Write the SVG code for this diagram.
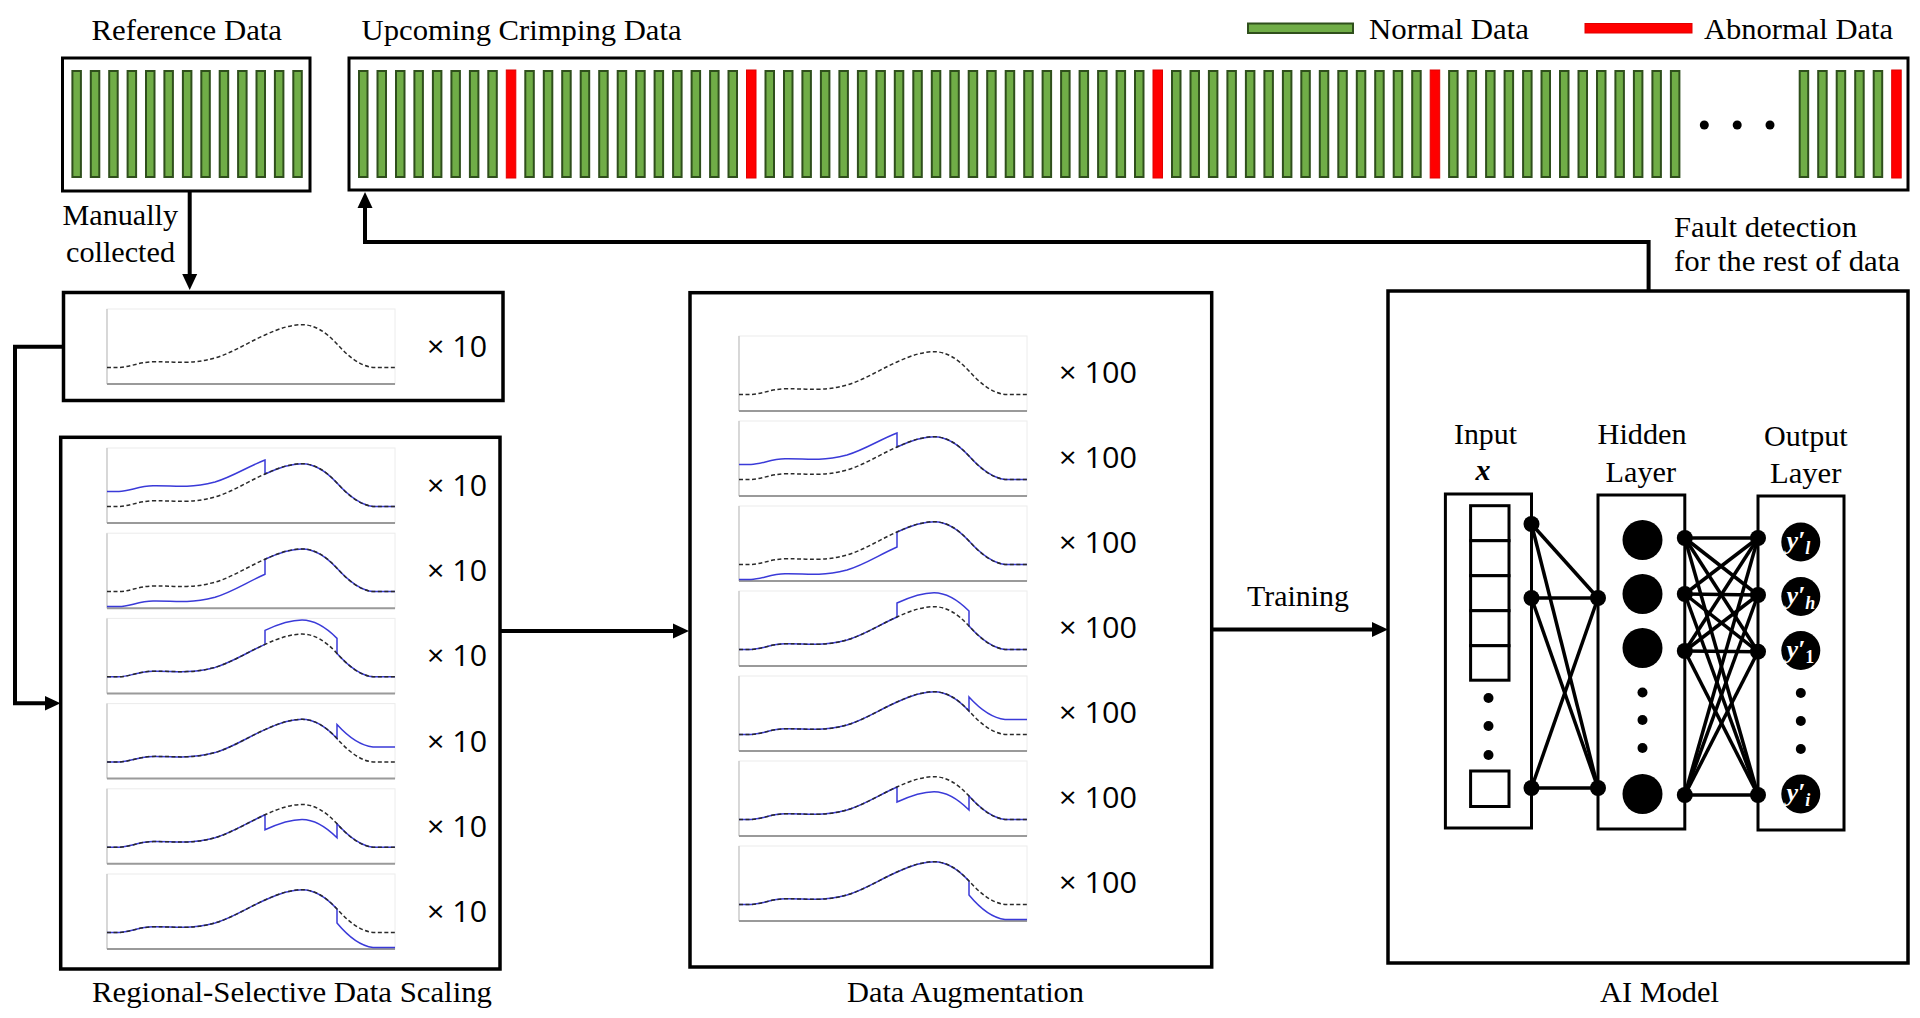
<svg xmlns="http://www.w3.org/2000/svg" xmlns:xlink="http://www.w3.org/1999/xlink" width="1920" height="1018" viewBox="0 0 1920 1018">
<style>
.t{font-family:"Liberation Serif","Times New Roman",serif;font-size:30px;fill:#000}
.s{font-family:"Open Sans","Noto Sans",sans-serif;font-size:29px;fill:#000}
.box{fill:#fff;stroke:#000;stroke-width:3.5}
.nbox{fill:#fff;stroke:#000;stroke-width:3}
.conn{fill:none;stroke:#000;stroke-width:4}
.nl{stroke:#000;stroke-width:3.5}
.gbar{fill:#70ad47;stroke:#2f4f1c;stroke-width:2}
.rbar{fill:#ff0000;stroke:#e00000;stroke-width:1}
.dash{fill:none;stroke:#2a2a2a;stroke-width:1.5;stroke-dasharray:4 2.5}
.blue{fill:none;stroke:#3a3ad8;stroke-width:1.5}
.yl{font-family:"Liberation Serif","DejaVu Serif",serif;font-style:italic;font-weight:bold;font-size:26px;fill:#fff}
</style>
<defs>
<marker id="ah" markerUnits="userSpaceOnUse" viewBox="0 0 16 16" markerWidth="16" markerHeight="16" refX="6" refY="8" orient="auto">
<path d="M0,0.5 L16,8 L0,15.5 Z" fill="#000"/>
</marker>
<rect id="gb" class="gbar" width="8.5" height="106"/>
<g id="frame">
<rect x="0" y="0" width="288" height="75" fill="#fff" stroke="#ececec" stroke-width="1"/>
<line x1="0" y1="0" x2="0" y2="75" stroke="#c4c4c4" stroke-width="1.2"/>
<line x1="0" y1="75" x2="288" y2="75" stroke="#9a9a9a" stroke-width="2"/>
</g>
<path id="base" d="M0,58.4 L12,58.4 C22,58.4 32,53 46,52.8 C60,52.6 68,53.6 80,53.2 C92,52.8 98,51.5 108,49 C125,44 140,34 158,26 C172,19.5 184,15.7 195,15.7 C207,15.7 218,22 230,35 C240,46 252,57 266,58.4 L288,58.4"/>
<path id="bA" d="M0,43.4 L12,43.4 C22,43.4 32,38 46,37.8 C60,37.6 68,38.6 80,38.2 C92,37.8 98,36.5 108,34 C125,29 140,19 158,12 L158,26 C172,19.5 184,15.7 195,15.7 C207,15.7 218,22 230,35 C240,46 252,57 266,58.4 L288,58.4"/>
<path id="bB" d="M0,73.4 L12,73.4 C22,73.4 32,68 46,67.8 C60,67.6 68,68.6 80,68.2 C92,67.8 98,66.5 108,64 C125,59 140,49 158,41 L158,26 C172,19.5 184,15.7 195,15.7 C207,15.7 218,22 230,35 C240,46 252,57 266,58.4 L288,58.4"/>
<path id="bC" d="M0,58.4 L12,58.4 C22,58.4 32,53 46,52.8 C60,52.6 68,53.6 80,53.2 C92,52.8 98,51.5 108,49 C125,44 140,34 158,26 L158,12 C172,5.5 184,1.7 195,1.7 C207,1.7 218,8 230,20 L230,35 C240,46 252,57 266,58.4 L288,58.4"/>
<path id="bD" d="M0,58.4 L12,58.4 C22,58.4 32,53 46,52.8 C60,52.6 68,53.6 80,53.2 C92,52.8 98,51.5 108,49 C125,44 140,34 158,26 C172,19.5 184,15.7 195,15.7 C207,15.7 218,22 230,35 L230,21 C240,32 252,42 266,43.4 L288,43.4"/>
<path id="bE" d="M0,58.4 L12,58.4 C22,58.4 32,53 46,52.8 C60,52.6 68,53.6 80,53.2 C92,52.8 98,51.5 108,49 C125,44 140,34 158,26 L158,41 C172,34.5 184,30.7 195,30.7 C207,30.7 218,37 230,49 L230,35 C240,46 252,57 266,58.4 L288,58.4"/>
<path id="bF" d="M0,58.4 L12,58.4 C22,58.4 32,53 46,52.8 C60,52.6 68,53.6 80,53.2 C92,52.8 98,51.5 108,49 C125,44 140,34 158,26 C172,19.5 184,15.7 195,15.7 C207,15.7 218,22 230,35 L230,49 C240,61 252,72 266,73.4 L288,73.4"/>
</defs>

<rect width="1920" height="1018" fill="#fff"/>

<g id="connectors">
<path class="conn" d="M189.7,191 V280" marker-end="url(#ah)"/>
<path class="conn" d="M1648.6,291 V242 H365 V202" marker-end="url(#ah)"/>
<path class="conn" d="M63,346.7 H15 V703.3 H50.5" marker-end="url(#ah)"/>
<path class="conn" d="M500,631 H679" marker-end="url(#ah)"/>
<path class="conn" d="M1211.7,629.5 H1378" marker-end="url(#ah)"/>
<text class="t" x="62.5" y="225" textLength="115.5" lengthAdjust="spacingAndGlyphs">Manually</text>
<text class="t" x="66" y="261.7" textLength="109" lengthAdjust="spacingAndGlyphs">collected</text>
<text class="t" x="1674" y="236.7" textLength="183" lengthAdjust="spacingAndGlyphs">Fault detection</text>
<text class="t" x="1674" y="270.7" textLength="226" lengthAdjust="spacingAndGlyphs">for the rest of data</text>
<text class="t" x="1247" y="605.7" textLength="102" lengthAdjust="spacingAndGlyphs">Training</text>
</g>

<g id="legend">
<rect class="gbar" x="1248" y="23.5" width="105" height="9.5"/>
<text class="t" x="1369" y="39" textLength="160" lengthAdjust="spacingAndGlyphs">Normal Data</text>
<rect class="rbar" x="1585" y="23.5" width="107" height="9.5"/>
<text class="t" x="1704" y="39" textLength="189" lengthAdjust="spacingAndGlyphs">Abnormal Data</text>
</g>

<g id="reference-data">
<text class="t" x="91.5" y="40" textLength="190.5" lengthAdjust="spacingAndGlyphs">Reference Data</text>
<rect x="62.5" y="58" width="247.5" height="133" fill="#fff" stroke="#000" stroke-width="3"/>
<use href="#gb" x="72.4" y="71"/><use href="#gb" x="90.8" y="71"/><use href="#gb" x="109.2" y="71"/><use href="#gb" x="127.6" y="71"/><use href="#gb" x="146" y="71"/><use href="#gb" x="164.4" y="71"/><use href="#gb" x="182.9" y="71"/><use href="#gb" x="201.3" y="71"/><use href="#gb" x="219.7" y="71"/><use href="#gb" x="238.1" y="71"/><use href="#gb" x="256.5" y="71"/><use href="#gb" x="274.9" y="71"/><use href="#gb" x="293.3" y="71"/>
</g>

<g id="upcoming-data">
<text class="t" x="361.6" y="40" textLength="320" lengthAdjust="spacingAndGlyphs">Upcoming Crimping Data</text>
<rect x="349" y="58" width="1559" height="132" fill="#fff" stroke="#000" stroke-width="3"/>
<g>
<use href="#gb" x="359" y="71"/><use href="#gb" x="377.5" y="71"/><use href="#gb" x="396" y="71"/><use href="#gb" x="414.4" y="71"/><use href="#gb" x="432.9" y="71"/><use href="#gb" x="451.4" y="71"/><use href="#gb" x="469.9" y="71"/><use href="#gb" x="488.3" y="71"/>
<rect class="rbar" x="506.3" y="70" width="9.5" height="108"/>
<use href="#gb" x="525.3" y="71"/><use href="#gb" x="543.8" y="71"/><use href="#gb" x="562.2" y="71"/><use href="#gb" x="580.7" y="71"/><use href="#gb" x="599.2" y="71"/><use href="#gb" x="617.7" y="71"/><use href="#gb" x="636.2" y="71"/><use href="#gb" x="654.6" y="71"/><use href="#gb" x="673.1" y="71"/><use href="#gb" x="691.6" y="71"/><use href="#gb" x="710.1" y="71"/><use href="#gb" x="728.5" y="71"/>
<rect class="rbar" x="746.5" y="70" width="9.5" height="108"/>
<use href="#gb" x="765.5" y="71"/><use href="#gb" x="784" y="71"/><use href="#gb" x="802.4" y="71"/><use href="#gb" x="820.9" y="71"/><use href="#gb" x="839.4" y="71"/><use href="#gb" x="857.9" y="71"/><use href="#gb" x="876.4" y="71"/><use href="#gb" x="894.8" y="71"/><use href="#gb" x="913.3" y="71"/><use href="#gb" x="931.8" y="71"/><use href="#gb" x="950.3" y="71"/><use href="#gb" x="968.7" y="71"/><use href="#gb" x="987.2" y="71"/><use href="#gb" x="1005.7" y="71"/><use href="#gb" x="1024.2" y="71"/><use href="#gb" x="1042.6" y="71"/><use href="#gb" x="1061.1" y="71"/><use href="#gb" x="1079.6" y="71"/><use href="#gb" x="1098.1" y="71"/><use href="#gb" x="1116.6" y="71"/><use href="#gb" x="1135" y="71"/>
<rect class="rbar" x="1153" y="70" width="9.5" height="108"/>
<use href="#gb" x="1172" y="71"/><use href="#gb" x="1190.5" y="71"/><use href="#gb" x="1208.9" y="71"/><use href="#gb" x="1227.4" y="71"/><use href="#gb" x="1245.9" y="71"/><use href="#gb" x="1264.4" y="71"/><use href="#gb" x="1282.9" y="71"/><use href="#gb" x="1301.3" y="71"/><use href="#gb" x="1319.8" y="71"/><use href="#gb" x="1338.3" y="71"/><use href="#gb" x="1356.8" y="71"/><use href="#gb" x="1375.2" y="71"/><use href="#gb" x="1393.7" y="71"/><use href="#gb" x="1412.2" y="71"/>
<rect class="rbar" x="1430.2" y="70" width="9.5" height="108"/>
<use href="#gb" x="1449.1" y="71"/><use href="#gb" x="1467.6" y="71"/><use href="#gb" x="1486.1" y="71"/><use href="#gb" x="1504.6" y="71"/><use href="#gb" x="1523.1" y="71"/><use href="#gb" x="1541.5" y="71"/><use href="#gb" x="1560" y="71"/><use href="#gb" x="1578.5" y="71"/><use href="#gb" x="1597" y="71"/><use href="#gb" x="1615.4" y="71"/><use href="#gb" x="1633.9" y="71"/><use href="#gb" x="1652.4" y="71"/><use href="#gb" x="1670.9" y="71"/>
<circle cx="1704.3" cy="125" r="4.5"/><circle cx="1737.2" cy="125" r="4.5"/><circle cx="1770" cy="125" r="4.5"/>
<use href="#gb" x="1799.7" y="71"/><use href="#gb" x="1818.2" y="71"/><use href="#gb" x="1836.7" y="71"/><use href="#gb" x="1855.2" y="71"/><use href="#gb" x="1873.7" y="71"/>
<rect class="rbar" x="1891.7" y="70" width="9.5" height="108"/>
</g>
</g>

<g id="reference-curve">
<rect class="box" x="63.5" y="292.5" width="439.5" height="108"/>
<g transform="translate(107,309)"><use href="#frame"/><use href="#base" class="dash"/></g>
<text class="s" x="427" y="357" textLength="60" lengthAdjust="spacingAndGlyphs">× 10</text>
</g>

<g id="regional-selective-scaling">
<rect class="box" x="60.7" y="437.3" width="439.3" height="531.7"/>
<g transform="translate(107,448)"><use href="#frame"/><use href="#bA" class="blue"/><use href="#base" class="dash"/></g>
<g transform="translate(107,533.2)"><use href="#frame"/><use href="#bB" class="blue"/><use href="#base" class="dash"/></g>
<g transform="translate(107,618.4)"><use href="#frame"/><use href="#bC" class="blue"/><use href="#base" class="dash"/></g>
<g transform="translate(107,703.6)"><use href="#frame"/><use href="#bD" class="blue"/><use href="#base" class="dash"/></g>
<g transform="translate(107,788.8)"><use href="#frame"/><use href="#bE" class="blue"/><use href="#base" class="dash"/></g>
<g transform="translate(107,874)"><use href="#frame"/><use href="#bF" class="blue"/><use href="#base" class="dash"/></g>
<text class="s" x="427" y="496" textLength="60" lengthAdjust="spacingAndGlyphs">× 10</text>
<text class="s" x="427" y="581.2" textLength="60" lengthAdjust="spacingAndGlyphs">× 10</text>
<text class="s" x="427" y="666.4" textLength="60" lengthAdjust="spacingAndGlyphs">× 10</text>
<text class="s" x="427" y="751.6" textLength="60" lengthAdjust="spacingAndGlyphs">× 10</text>
<text class="s" x="427" y="836.8" textLength="60" lengthAdjust="spacingAndGlyphs">× 10</text>
<text class="s" x="427" y="922" textLength="60" lengthAdjust="spacingAndGlyphs">× 10</text>
<text class="t" x="92" y="1002" textLength="400" lengthAdjust="spacingAndGlyphs">Regional-Selective Data Scaling</text>
</g>

<g id="data-augmentation">
<rect class="box" x="690" y="292.7" width="521.7" height="674.3"/>
<g transform="translate(739,336)"><use href="#frame"/><use href="#base" class="dash"/></g>
<g transform="translate(739,421)"><use href="#frame"/><use href="#bA" class="blue"/><use href="#base" class="dash"/></g>
<g transform="translate(739,506)"><use href="#frame"/><use href="#bB" class="blue"/><use href="#base" class="dash"/></g>
<g transform="translate(739,591)"><use href="#frame"/><use href="#bC" class="blue"/><use href="#base" class="dash"/></g>
<g transform="translate(739,676)"><use href="#frame"/><use href="#bD" class="blue"/><use href="#base" class="dash"/></g>
<g transform="translate(739,761)"><use href="#frame"/><use href="#bE" class="blue"/><use href="#base" class="dash"/></g>
<g transform="translate(739,846)"><use href="#frame"/><use href="#bF" class="blue"/><use href="#base" class="dash"/></g>
<text class="s" x="1059" y="383" textLength="78" lengthAdjust="spacingAndGlyphs">× 100</text>
<text class="s" x="1059" y="468" textLength="78" lengthAdjust="spacingAndGlyphs">× 100</text>
<text class="s" x="1059" y="553" textLength="78" lengthAdjust="spacingAndGlyphs">× 100</text>
<text class="s" x="1059" y="638" textLength="78" lengthAdjust="spacingAndGlyphs">× 100</text>
<text class="s" x="1059" y="723" textLength="78" lengthAdjust="spacingAndGlyphs">× 100</text>
<text class="s" x="1059" y="808" textLength="78" lengthAdjust="spacingAndGlyphs">× 100</text>
<text class="s" x="1059" y="893" textLength="78" lengthAdjust="spacingAndGlyphs">× 100</text>
<text class="t" x="847" y="1002" textLength="237" lengthAdjust="spacingAndGlyphs">Data Augmentation</text>
</g>

<g id="ai-model">
<rect class="box" x="1388" y="291" width="520" height="672"/>
<text class="t" x="1600" y="1002" textLength="119" lengthAdjust="spacingAndGlyphs">AI Model</text>
<g id="input-layer">
<text class="t" x="1454" y="444" textLength="63" lengthAdjust="spacingAndGlyphs">Input</text>
<text class="t" x="1483" y="480" text-anchor="middle" font-style="italic" font-weight="bold">x</text>
<rect class="nbox" x="1445.4" y="494" width="86.1" height="334"/>
<rect class="nbox" x="1470.6" y="505.7" width="38.4" height="35"/>
<rect class="nbox" x="1470.6" y="540.7" width="38.4" height="35"/>
<rect class="nbox" x="1470.6" y="575.7" width="38.4" height="35"/>
<rect class="nbox" x="1470.6" y="610.7" width="38.4" height="35"/>
<rect class="nbox" x="1470.6" y="645.7" width="38.4" height="34.5"/>
<circle cx="1488.5" cy="698" r="5"/><circle cx="1488.5" cy="726" r="5"/><circle cx="1488.5" cy="755" r="5"/>
<rect class="nbox" x="1470.6" y="771" width="38.4" height="35.5"/>
</g>
<g id="hidden-layer">
<text class="t" x="1597.6" y="444" textLength="89" lengthAdjust="spacingAndGlyphs">Hidden</text>
<text class="t" x="1605.5" y="482" textLength="70.5" lengthAdjust="spacingAndGlyphs">Layer</text>
<rect class="nbox" x="1598" y="495" width="86.8" height="334"/>
<circle cx="1642.5" cy="540" r="20"/><circle cx="1642.5" cy="594" r="20"/><circle cx="1642.5" cy="648" r="20"/><circle cx="1642.5" cy="794" r="20"/>
<circle cx="1642.5" cy="692.5" r="5"/><circle cx="1642.5" cy="720" r="5"/><circle cx="1642.5" cy="748" r="5"/>
</g>
<g id="output-layer">
<text class="t" x="1764" y="446" textLength="83.6" lengthAdjust="spacingAndGlyphs">Output</text>
<text class="t" x="1770" y="483" textLength="71.4" lengthAdjust="spacingAndGlyphs">Layer</text>
<rect class="nbox" x="1758" y="496" width="86" height="334"/>
<circle cx="1800.8" cy="542" r="19.5"/><circle cx="1800.8" cy="596.5" r="19.5"/><circle cx="1800.8" cy="650.5" r="19.5"/><circle cx="1800.8" cy="794" r="19.5"/>
<text class="yl" x="1786.5" y="549">y′<tspan font-size="18" dy="5">l</tspan></text>
<text class="yl" x="1786.5" y="603.5">y′<tspan font-size="18" dy="5">h</tspan></text>
<text class="yl" x="1786.5" y="657.5">y′<tspan font-size="18" dy="5" font-style="normal">1</tspan></text>
<text class="yl" x="1786.5" y="801">y′<tspan font-size="18" dy="5">i</tspan></text>
<circle cx="1800.8" cy="693" r="5"/><circle cx="1800.8" cy="721" r="5"/><circle cx="1800.8" cy="749" r="5"/>
</g>
<g id="weights">
<line class="nl" x1="1531.5" y1="524" x2="1598" y2="598"/>
<line class="nl" x1="1531.5" y1="524" x2="1598" y2="788"/>
<line class="nl" x1="1531.5" y1="598" x2="1598" y2="598"/>
<line class="nl" x1="1531.5" y1="598" x2="1598" y2="788"/>
<line class="nl" x1="1531.5" y1="788" x2="1598" y2="598"/>
<line class="nl" x1="1531.5" y1="788" x2="1598" y2="788"/>
<line class="nl" x1="1684.8" y1="538" x2="1758" y2="538"/>
<line class="nl" x1="1684.8" y1="538" x2="1758" y2="595"/>
<line class="nl" x1="1684.8" y1="538" x2="1758" y2="651.7"/>
<line class="nl" x1="1684.8" y1="538" x2="1758" y2="795"/>
<line class="nl" x1="1684.8" y1="594" x2="1758" y2="538"/>
<line class="nl" x1="1684.8" y1="594" x2="1758" y2="595"/>
<line class="nl" x1="1684.8" y1="594" x2="1758" y2="651.7"/>
<line class="nl" x1="1684.8" y1="594" x2="1758" y2="795"/>
<line class="nl" x1="1684.8" y1="651" x2="1758" y2="538"/>
<line class="nl" x1="1684.8" y1="651" x2="1758" y2="595"/>
<line class="nl" x1="1684.8" y1="651" x2="1758" y2="651.7"/>
<line class="nl" x1="1684.8" y1="651" x2="1758" y2="795"/>
<line class="nl" x1="1684.8" y1="795" x2="1758" y2="538"/>
<line class="nl" x1="1684.8" y1="795" x2="1758" y2="595"/>
<line class="nl" x1="1684.8" y1="795" x2="1758" y2="651.7"/>
<line class="nl" x1="1684.8" y1="795" x2="1758" y2="795"/>
<circle cx="1531.5" cy="524" r="8"/><circle cx="1531.5" cy="598" r="8"/><circle cx="1531.5" cy="788" r="8"/>
<circle cx="1598" cy="598" r="8"/><circle cx="1598" cy="788" r="8"/>
<circle cx="1684.8" cy="538" r="8"/><circle cx="1684.8" cy="594" r="8"/><circle cx="1684.8" cy="651" r="8"/><circle cx="1684.8" cy="795" r="8"/>
<circle cx="1758" cy="538" r="8"/><circle cx="1758" cy="595" r="8"/><circle cx="1758" cy="651.7" r="8"/><circle cx="1758" cy="795" r="8"/>
</g>
</g>
</svg>
